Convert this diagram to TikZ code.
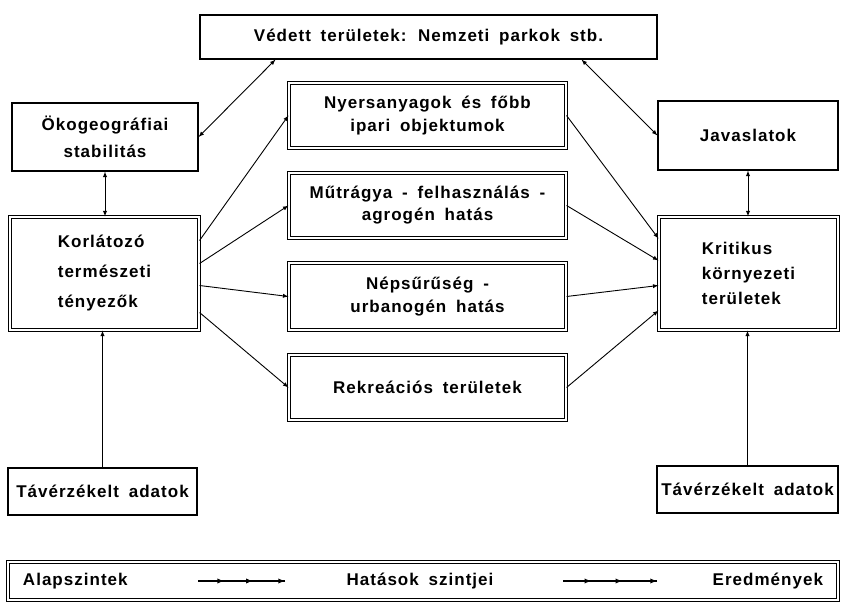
\documentclass[tikz,border=0pt]{standalone}
\usepackage{fontspec}
\setmainfont{Liberation Sans}[LetterSpace=6,WordSpace=1.7]
\usetikzlibrary{arrows,decorations.markings}

\tikzset{
  txt/.style={font=\bfseries\fontsize{17}{27}\selectfont},
  box/.style={draw, line width=1.1pt, inner sep=0pt, align=center, txt},
  dbox/.style={box, double, double distance=2pt, line width=1.1pt},
  link/.style={line width=0.9pt},
  legarrow/.style={line width=1.3pt, decoration={markings,
      mark=at position 0.3 with {\arrow{latex}},
      mark=at position 0.63 with {\arrow{latex}},
      mark=at position 1 with {\arrow{latex}}}, postaction={decorate}}
}

\begin{document}
\begin{tikzpicture}[x=1pt,y=-1pt,>=latex]
  \useasboundingbox (0,0) rectangle (841,605);
  % top and side boxes
  \node[box, minimum width=457, minimum height=44] (vedett) at (428.5,37) {Védett területek: Nemzeti parkok stb.};
  \node[box, minimum width=186, minimum height=68] (oko) at (105,137) {Ökogeográfiai\\[0pt]stabilitás};
  \node[dbox, minimum width=189, minimum height=113, align=left] (korl) at (104.5,273.5) {Korlátozó\\[3pt]természeti\\[3pt]tényezők};
  \node[box, minimum width=189, minimum height=47] (tavl) at (102.5,491.5) {Távérzékelt adatok};
  \node[box, minimum width=180, minimum height=69] (javas) at (748,135.5) {Javaslatok};
  \node[dbox, minimum width=179, minimum height=113, align=left] (krit) at (748.5,273.5) {Kritikus\\[-2pt]környezeti\\[-2pt]területek};
  \node[box, minimum width=181, minimum height=47] (tavr) at (747.5,489.5) {Távérzékelt adatok};
  % middle column
  \node[dbox, minimum width=277, minimum height=65] (nyers) at (427.5,115.5) {Nyersanyagok és főbb\\[-4pt]ipari objektumok};
  \node[dbox, minimum width=277, minimum height=65] (mutr) at (427.5,205.5) {Műtrágya - felhasználás -\\[-5pt]agrogén hatás};
  \node[dbox, minimum width=277, minimum height=67] (neps) at (427.5,296.5) {Népsűrűség -\\[-4pt]urbanogén hatás};
  \node[dbox, minimum width=277, minimum height=65] (rekr) at (427.5,387.5) {Rekreációs területek};
  % legend
  \node[dbox, minimum width=830, minimum height=38] (legend) at (423,581) {};
  \node[txt, anchor=west] (alap) at ([xshift=12pt]legend.west) {Alapszintek};
  \node[txt] (hatas) at ([xshift=-3pt]legend.center) {Hatások szintjei};
  \node[txt, anchor=east] (ered) at ([xshift=-12pt]legend.east) {Eredmények};
  \coordinate (la) at (198,581);
  \coordinate (lb) at (285,581);
  \coordinate (lc) at (563,581);
  \coordinate (ld) at (657,581);
  \draw[legarrow] (la) -- (lb);
  \draw[legarrow] (lc) -- (ld);

  \path[link, <->]
  (oko.east) edge ([xshift=-153pt]vedett.south)
  ([xshift=153pt]vedett.south) edge (javas.west)
  (oko.south) edge (oko.south |- korl.north)
  (javas.south) edge (javas.south |- krit.north)
  ;
  \path[link, ->]
  ([yshift=33pt]korl.east) edge (nyers.west)
  ([yshift=10pt]korl.east) edge (mutr.west)
  ([yshift=-12pt]korl.east) edge (neps.west)
  ([yshift=-39pt]korl.east) edge (rekr.west)
  (nyers.east) edge ([yshift=35pt]krit.west)
  (mutr.east) edge ([yshift=13pt]krit.west)
  (neps.east) edge ([yshift=-12pt]krit.west)
  (rekr.east) edge ([yshift=-37pt]krit.west)
  (tavl.north) edge (tavl.north |- korl.south)
  (tavr.north) edge (tavr.north |- krit.south)
  ;
\end{tikzpicture}
\end{document}
